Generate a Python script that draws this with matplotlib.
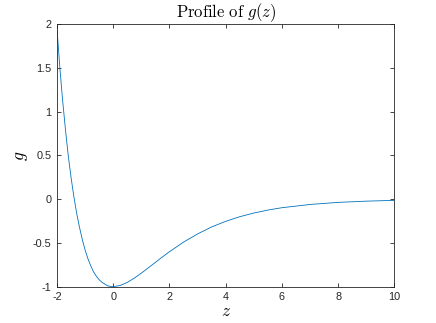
import matplotlib
matplotlib.use("Agg")
import matplotlib.pyplot as plt

# Values
z = [-2.0, -1.9, -1.8, -1.7, -1.6, -1.5, -1.4, -1.3, -1.2, -1.1, -1.0,
     -0.9, -0.8, -0.7, -0.6, -0.5, -0.4, -0.3, -0.2, -0.1, 0.0,
     0.25, 0.5, 0.75, 1.0, 1.25, 1.5, 1.75, 2.0, 2.5, 3.0, 3.5, 4.0,
     4.5, 5.0, 5.5, 6.0, 7.0, 8.0, 9.0, 10.0]
g = [1.95, 1.51, 1.13, 0.80, 0.50, 0.25, 0.03, -0.16, -0.32, -0.46, -0.58,
     -0.68, -0.76, -0.83, -0.88, -0.92, -0.95, -0.97, -0.99, -0.997, -1.0,
     -0.986, -0.951, -0.902, -0.845, -0.784, -0.722, -0.660, -0.600, -0.491,
     -0.397, -0.317, -0.253, -0.200, -0.158, -0.124, -0.097, -0.060, -0.036,
     -0.022, -0.013]

xticks = [-2, 0, 2, 4, 6, 8, 10]
xticklabels = ["-2", "0", "2", "4", "6", "8", "10"]
yticks = [-1, -0.5, 0, 0.5, 1, 1.5, 2]
yticklabels = ["-1", "-0.5", "0", "0.5", "1", "1.5", "2"]

plt.rcParams["mathtext.fontset"] = "cm"
plt.rcParams["font.family"] = ["Liberation Sans", "DejaVu Sans"]

ax_col = "#262626"
fig = plt.figure(figsize=(4.36, 3.23), dpi=100)
ax = fig.add_axes([0.1307, 0.1124, 0.7737, 0.8124])
ax.plot(z, g, color="#0072BD", lw=0.6)
ax.set_xlim(-2, 10)
ax.set_ylim(-1, 2)
ax.set_xticks(xticks)
ax.set_xticklabels(xticklabels)
ax.set_yticks(yticks)
ax.set_yticklabels(yticklabels)
ax.tick_params(direction="in", length=3, width=0.6, colors=ax_col,
               labelsize=7.8, top=True, right=True, pad=4)
for s in ax.spines.values():
    s.set_color(ax_col)
    s.set_linewidth(0.6)
ax.set_title(r"$\mathrm{Profile\ of\ }g(z)$", fontsize=12, color="black", pad=5)
ax.set_xlabel(r"$z$", fontsize=12.5, color="black", labelpad=1.5)
ax.set_ylabel(r"$g$", fontsize=12.5, color="black", labelpad=2)
fig.savefig("out.png", dpi=100)
